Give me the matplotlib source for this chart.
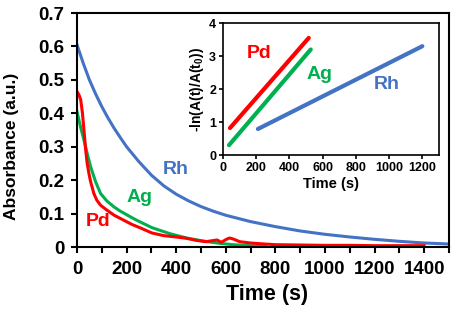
import matplotlib
matplotlib.use("Agg")
import matplotlib.pyplot as plt

plt.rcParams['font.family'] = ['Liberation Sans', 'DejaVu Sans']
plt.rcParams['font.weight'] = 'bold'
plt.rcParams['axes.labelweight'] = 'bold'
plt.rcParams['mathtext.fontset'] = 'custom'
plt.rcParams['mathtext.bf'] = 'Liberation Sans:bold'
plt.rcParams['mathtext.rm'] = 'Liberation Sans:bold'
plt.rcParams['mathtext.default'] = 'bf'

# main panel: absorbance vs time
rh_t = [0, 25, 50, 75, 100, 125, 150, 175, 200, 250, 300, 350, 400, 450, 500, 550,
        600, 700, 800, 900, 1000, 1100, 1200, 1300, 1400, 1500]
rh_a = [0.605, 0.55, 0.50, 0.458, 0.42, 0.386, 0.355, 0.327, 0.30, 0.255, 0.215,
        0.183, 0.158, 0.138, 0.121, 0.107, 0.095, 0.076, 0.061, 0.048, 0.038, 0.030,
        0.023, 0.017, 0.012, 0.009]

ag_t = [0, 14, 28, 41, 55, 75, 95, 120, 149, 173, 216, 241, 302, 374, 442, 507,
        575, 628, 700, 760]
ag_a = [0.405, 0.36, 0.32, 0.28, 0.24, 0.195, 0.16, 0.138, 0.12, 0.108, 0.09,
        0.08, 0.058, 0.04, 0.027, 0.018, 0.011, 0.007, 0.004, 0.002]

pd_t = [0, 8, 15, 22, 28, 35, 41, 48, 55, 68, 80, 95, 121, 150, 189, 220, 256,
        302, 350, 400, 442, 480, 520, 547, 565, 582, 600, 615, 630, 656, 700, 736,
        800, 900, 1000, 1100, 1200, 1300, 1400]
pd_a = [0.465, 0.455, 0.44, 0.40, 0.35, 0.29, 0.25, 0.22, 0.195, 0.16, 0.14,
        0.125, 0.11, 0.095, 0.08, 0.068, 0.057, 0.042, 0.034, 0.03, 0.026, 0.02,
        0.016, 0.019, 0.021, 0.014, 0.022, 0.027, 0.024, 0.016, 0.012, 0.010,
        0.007, 0.006, 0.005, 0.005, 0.004, 0.004, 0.004]

# inset: -ln(A(t)/A(t0)) linear fits
pd_fit_t = [42, 516]
pd_fit_y = [0.82, 3.55]
ag_fit_t = [36, 528]
ag_fit_y = [0.30, 3.20]
rh_fit_t = [210, 1200]
rh_fit_y = [0.79, 3.30]

red = '#FF0000'
green = '#00B050'
blue = '#4472C4'

fig = plt.figure(figsize=(4.53, 3.12), dpi=100)
ax = fig.add_axes([0.170, 0.2083, 0.821, 0.750])

ax.plot(rh_t, rh_a, color=blue, lw=2.2)
ax.plot(ag_t, ag_a, color=green, lw=2.2)
ax.plot(pd_t, pd_a, color=red, lw=2.2)

ax.text(398, 0.233, 'Rh', color=blue, fontsize=14, fontweight='bold', ha='center', va='center')
ax.text(253, 0.147, 'Ag', color=green, fontsize=14, fontweight='bold', ha='center', va='center')
ax.text(84, 0.075, 'Pd', color=red, fontsize=14, fontweight='bold', ha='center', va='center')

ax.set_xlim(0, 1500)
ax.set_ylim(0, 0.7)
ax.set_xticks(range(0, 1401, 200))
ax.set_xticks(range(0, 1501, 100), minor=True)
ax.set_yticks([0, 0.1, 0.2, 0.3, 0.4, 0.5, 0.6, 0.7])
ax.set_yticklabels(['0', '0.1', '0.2', '0.3', '0.4', '0.5', '0.6', '0.7'])
ax.tick_params(which='both', direction='out', width=1.5, length=4, labelsize=13.5)
ax.tick_params(axis='x', pad=6)
ax.tick_params(axis='y', pad=5)
for lab in ax.get_xticklabels() + ax.get_yticklabels():
    lab.set_fontweight('bold')
for s in ax.spines.values():
    s.set_linewidth(1.5)
ax.set_xlabel('Time (s)', fontsize=15.5, fontweight='bold')
ax.set_ylabel('Absorbance (a.u.)', fontsize=12.5, fontweight='bold')
ax.xaxis.set_label_coords(0.51, -0.16)
ax.yaxis.set_label_coords(-0.155, 0.43)

ins = fig.add_axes([0.4923, 0.503, 0.4767, 0.423])
ins.plot(pd_fit_t, pd_fit_y, color=red, lw=3, solid_capstyle='round')
ins.plot(ag_fit_t, ag_fit_y, color=green, lw=3, solid_capstyle='round')
ins.plot(rh_fit_t, rh_fit_y, color=blue, lw=3, solid_capstyle='round')
ins.text(216, 3.09, 'Pd', color=red, fontsize=14, fontweight='bold', ha='center', va='center')
ins.text(582, 2.45, 'Ag', color=green, fontsize=14, fontweight='bold', ha='center', va='center')
ins.text(984, 2.15, 'Rh', color=blue, fontsize=14, fontweight='bold', ha='center', va='center')
ins.set_xlim(0, 1300)
ins.set_ylim(0, 4)
ins.set_xticks(range(0, 1201, 200))
ins.set_yticks([0, 1, 2, 3, 4])
ins.tick_params(direction='out', width=1.2, length=3, labelsize=9, pad=2)
for lab in ins.get_xticklabels() + ins.get_yticklabels():
    lab.set_fontweight('bold')
for s in ins.spines.values():
    s.set_linewidth(1.2)
ins.set_xlabel('Time (s)', fontsize=10.5, fontweight='bold', labelpad=2)
ins.set_ylabel('-ln(A(t)/A(t$_{0}$))', fontsize=10, fontweight='bold', labelpad=2)

fig.savefig('out.png', dpi=100)
